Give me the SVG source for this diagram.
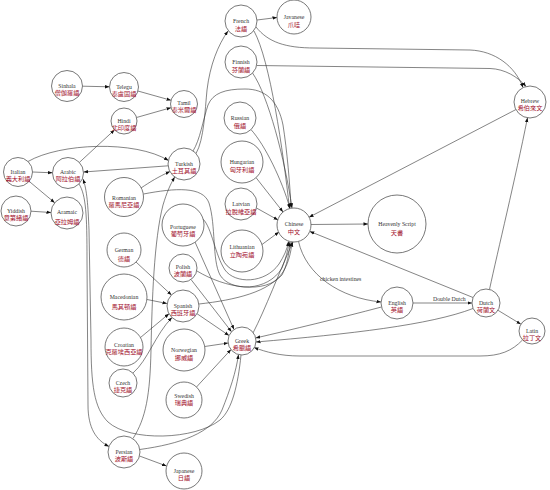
<svg xmlns="http://www.w3.org/2000/svg" width="550" height="490" viewBox="0 0 550 490">
<style>
.n circle{fill:#fff;stroke:#555;stroke-width:0.8}
.en{font-family:"Liberation Serif",serif;font-size:5.8px;fill:#333;text-anchor:middle}
.zh{font-family:"Noto Sans CJK TC","Noto Sans CJK SC",sans-serif;font-size:6.2px;fill:#a3122e;text-anchor:middle}
.lbl{font-family:"Liberation Serif",serif;font-size:5.8px;fill:#333}
#edges path{fill:none;stroke:#333;stroke-width:0.6;marker-end:url(#a)}
</style>
<defs>
<marker id="a" viewBox="0 0 10 10" refX="10" refY="5" markerWidth="4.5" markerHeight="4.5" markerUnits="userSpaceOnUse" orient="auto"><path d="M0,1.2 L10,5 L0,8.8 z" fill="#111"/></marker>
</defs>
<rect width="550" height="490" fill="#fff"/>
<g id="edges">
<path d="M82.5,86.2 L109.5,86.8"/>
<path d="M137.9,91 L171,100.3"/>
<path d="M136.5,117.5 L171,107.7"/>
<path d="M79.4,162.4 L114.5,129.9"/>
<path d="M32.5,172 L52.5,172.8"/>
<path d="M29.1,181.3 L54.7,202.7"/>
<path d="M31,211.2 L51,212.5"/>
<path d="M28,161.5 C60,143 135,140 168.5,160.5"/>
<path d="M168.2,165.8 L83.5,172"/>
<path d="M141,188 C150,182 158,177 170,171.5"/>
<path d="M133,438.5 C146,418 150,395 151,350 C152,300 154,240 163,205 C167,192 170,185 174.7,177"/>
<path d="M196,153.5 C204,140 205,110 207,90 C210,65 218,45 228,31"/>
<path d="M193,151 C200,140 203,120 208,105 C213,93 225,89 245,89 C265,89 278,100 283,125 C287,150 290,185 291,207.5"/>
<path d="M254,31 C270,60 283,150 289.5,208.5"/>
<path d="M252.5,73 C268,95 285,160 292,208"/>
<path d="M256,27 C268,42 285,48 315,48 L470,50 C495,51 515,66 523,87.5"/>
<path d="M257,65.5 L490,68.5 C505,69 518,77 526,86.5"/>
<path d="M257,20 L277,17.5"/>
<path d="M251,129.6 C265,145 282,180 290,208.5"/>
<path d="M256,177.6 L283,212"/>
<path d="M256.5,208 L278,220"/>
<path d="M262,244.5 L279,232"/>
<path d="M311,224.5 L368,224"/>
<path d="M298.5,241.4 C306,275 340,298 381,302"/>
<path d="M413,303 L472,303"/>
<path d="M498,310.3 L520.9,324.2"/>
<path d="M489.5,289.4 C498,250 515,180 527.5,117.8"/>
<path d="M516,109.5 L309.1,217.2"/>
<path d="M473,297.5 L309.8,231.4"/>
<path d="M381.5,307 C340,318 290,330 255.7,338"/>
<path d="M473,308.5 C430,325 350,334 256,342"/>
<path d="M522.5,340 C512,351 500,356 480,356 L300,356 C280,356 266,352 254,347.5"/>
<path d="M195,242 L234,329.5"/>
<path d="M191,279.5 L231.5,331.7"/>
<path d="M197,313.7 L229,335.5"/>
<path d="M204.7,346.5 L228.2,343"/>
<path d="M196.5,387 L231,349.5"/>
<path d="M139.8,449.5 C180,444 212,433 222,410 C230,390 236,372 238.5,354.5"/>
<path d="M241,355 C238,385 232,410 220,420 C195,440 130,442 108,422 C94,408 91,385 91,340 L89,230 C88,205 87,190 83,179"/>
<path d="M79,184 C86,195 87,215 87,260 L88,405 C88,428 96,440 109,446.5"/>
<path d="M139.5,456 L166.5,466"/>
<path d="M136,262 L171.5,295"/>
<path d="M147,299.5 L167,303.5"/>
<path d="M140.5,337.5 L169,313.7"/>
<path d="M133,373 C148,360 155,335 172,317.5"/>
<path d="M199,304 C235,300 270,292 283,272 C289,262 291,252 292,242"/>
<path d="M197,271 C225,288 265,295 282,275 C287,265 289,255 290,242"/>
<path d="M143.5,194 C175,188 203,186 209,203 C216,225 212,260 220,275 C230,292 268,292 282,268 C286,258 288,250 289,242"/>
<path d="M203,219 C212,228 215,255 225,270 C235,284 265,284 279,264 C284,256 287,250 288.5,241.5"/>
<path d="M253,333 C265,310 280,270 293,242"/>
<text class="lbl" x="320" y="281">chicken intestines</text>
<text class="lbl" x="433" y="300.5">Double Dutch</text>
</g>
<g id="n-french" class="n"><circle cx="241" cy="21" r="16"/><text class="en" x="241" y="23">French</text><text class="zh" x="241" y="31">法語</text></g>
<g id="n-javanese" class="n"><circle cx="294" cy="17" r="17"/><text class="en" x="294" y="19">Javanese</text><text class="zh" x="294" y="27">爪哇</text></g>
<g id="n-finnish" class="n"><circle cx="241" cy="62" r="16"/><text class="en" x="241" y="64">Finnish</text><text class="zh" x="241" y="72">芬蘭語</text></g>
<g id="n-russian" class="n"><circle cx="240" cy="118" r="16"/><text class="en" x="240" y="120">Russian</text><text class="zh" x="240" y="128">俄語</text></g>
<g id="n-hungarian" class="n"><circle cx="242" cy="162" r="21"/><text class="en" x="242" y="164">Hungarian</text><text class="zh" x="242" y="172">匈牙利語</text></g>
<g id="n-latvian" class="n"><circle cx="241" cy="204" r="16"/><text class="en" x="241" y="206">Latvian</text><text class="zh" x="241" y="214">拉脫維亞語</text></g>
<g id="n-lithuanian" class="n"><circle cx="242" cy="251" r="21"/><text class="en" x="242" y="249">Lithuanian</text><text class="zh" x="242" y="257">立陶宛語</text></g>
<g id="n-chinese" class="n"><circle cx="294" cy="225" r="17"/><text class="en" x="294" y="226">Chinese</text><text class="zh" x="294" y="234">中文</text></g>
<g id="n-heavenly" class="n"><circle cx="397" cy="224" r="29"/><text class="en" x="397" y="226">Heavenly Script</text><text class="zh" x="397" y="235">天書</text></g>
<g id="n-english" class="n"><circle cx="397" cy="303" r="16"/><text class="en" x="397" y="305">English</text><text class="zh" x="397" y="312">英語</text></g>
<g id="n-dutch" class="n"><circle cx="486" cy="303" r="14"/><text class="en" x="486" y="305">Dutch</text><text class="zh" x="486" y="312">荷蘭文</text></g>
<g id="n-latin" class="n"><circle cx="532" cy="331" r="13"/><text class="en" x="532" y="333">Latin</text><text class="zh" x="532" y="340">拉丁文</text></g>
<g id="n-hebrew" class="n"><circle cx="530" cy="102" r="16"/><text class="en" x="530" y="103">Hebrew</text><text class="zh" x="530" y="110">希伯來文</text></g>
<g id="n-sinhala" class="n"><circle cx="67" cy="86" r="15.5"/><text class="en" x="67" y="88">Sinhala</text><text class="zh" x="67" y="95">僧伽羅語</text></g>
<g id="n-telegu" class="n"><circle cx="124" cy="87" r="14.5"/><text class="en" x="124" y="88.5">Telegu</text><text class="zh" x="124" y="95.5">泰盧固語</text></g>
<g id="n-tamil" class="n"><circle cx="184" cy="104" r="13.5"/><text class="en" x="184" y="105">Tamil</text><text class="zh" x="184" y="112">泰米爾語</text></g>
<g id="n-hindi" class="n"><circle cx="124" cy="121" r="13"/><text class="en" x="124" y="122.5">Hindi</text><text class="zh" x="124" y="129.5">北印度語</text></g>
<g id="n-italian" class="n"><circle cx="18" cy="172" r="14.5"/><text class="en" x="18" y="173.5">Italian</text><text class="zh" x="18" y="180.5">義大利語</text></g>
<g id="n-arabic" class="n"><circle cx="68" cy="173" r="15.5"/><text class="en" x="68" y="173.5">Arabic</text><text class="zh" x="68" y="180.5">阿拉伯語</text></g>
<g id="n-turkish" class="n"><circle cx="184" cy="164" r="16"/><text class="en" x="184" y="166">Turkish</text><text class="zh" x="184" y="173">土耳其語</text></g>
<g id="n-romanian" class="n"><circle cx="124" cy="197" r="19.5"/><text class="en" x="124" y="200">Romanian</text><text class="zh" x="124" y="207">羅馬尼亞語</text></g>
<g id="n-yiddish" class="n"><circle cx="16" cy="211" r="15"/><text class="en" x="16" y="213">Yiddish</text><text class="zh" x="16" y="220">意第緒語</text></g>
<g id="n-aramaic" class="n"><circle cx="67" cy="213" r="16"/><text class="en" x="67" y="214">Aramaic</text><text class="zh" x="67" y="223.5">亞拉姆語</text></g>
<g id="n-portuguese" class="n"><circle cx="183" cy="225" r="21"/><text class="en" x="183" y="229">Portuguese</text><text class="zh" x="183" y="236">葡萄牙語</text></g>
<g id="n-german" class="n"><circle cx="124" cy="250" r="17"/><text class="en" x="124" y="252">German</text><text class="zh" x="124" y="261">德語</text></g>
<g id="n-macedonian" class="n"><circle cx="124" cy="297" r="23"/><text class="en" x="124" y="299">Macedonian</text><text class="zh" x="124" y="309">馬其頓語</text></g>
<g id="n-polish" class="n"><circle cx="183" cy="268" r="14"/><text class="en" x="183" y="269">Polish</text><text class="zh" x="183" y="276">波蘭語</text></g>
<g id="n-spanish" class="n"><circle cx="183" cy="306" r="16"/><text class="en" x="183" y="307.5">Spanish</text><text class="zh" x="183" y="315">西班牙語</text></g>
<g id="n-croatian" class="n"><circle cx="124" cy="347" r="19"/><text class="en" x="124" y="346.5">Croatian</text><text class="zh" x="124" y="353.5">克羅埃西亞語</text></g>
<g id="n-czech" class="n"><circle cx="123" cy="383" r="14"/><text class="en" x="123" y="385">Czech</text><text class="zh" x="123" y="392">捷克語</text></g>
<g id="n-norwegian" class="n"><circle cx="184" cy="350" r="21"/><text class="en" x="184" y="352">Norwegian</text><text class="zh" x="184" y="359.5">挪威語</text></g>
<g id="n-greek" class="n"><circle cx="242" cy="341" r="14"/><text class="en" x="242" y="342.5">Greek</text><text class="zh" x="242" y="349.5">希臘語</text></g>
<g id="n-swedish" class="n"><circle cx="184" cy="400" r="18"/><text class="en" x="184" y="398">Swedish</text><text class="zh" x="184" y="405">瑞典語</text></g>
<g id="n-persian" class="n"><circle cx="124" cy="452" r="16"/><text class="en" x="124" y="453.5">Persian</text><text class="zh" x="124" y="460.5">波斯語</text></g>
<g id="n-japanese" class="n"><circle cx="184" cy="471" r="18"/><text class="en" x="184" y="472.5">Japanese</text><text class="zh" x="184" y="479.5">日語</text></g>
</svg>
